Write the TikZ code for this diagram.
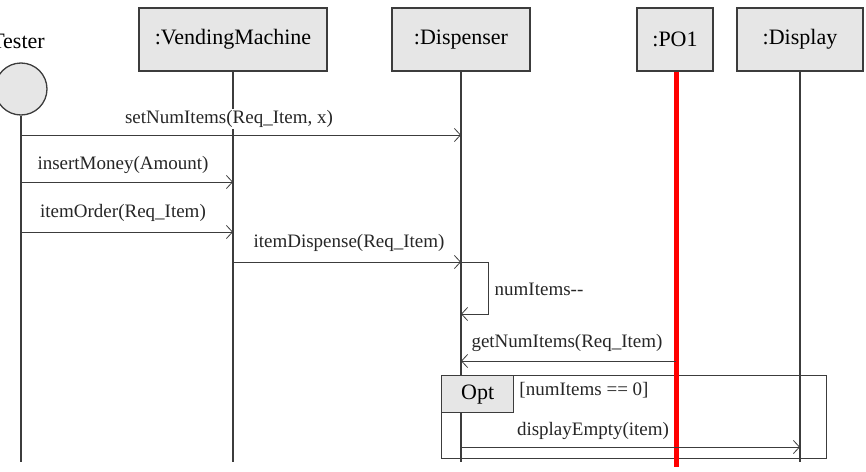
\documentclass[tikz,border=0pt]{standalone}
\usepackage{fontspec}
\setmainfont{Liberation Serif}
\usetikzlibrary{arrows.meta}
\definecolor{boxgray}{RGB}{230,230,230}
\definecolor{linegray}{RGB}{60,60,60}
\begin{document}
\begin{tikzpicture}[x=1pt,y=-1pt,
  obj/.style={draw=linegray,fill=boxgray,line width=1.3pt,minimum height=63pt,inner sep=0pt,font=\fontsize{22}{26}\selectfont},
  life/.style={draw=linegray,line width=1.3pt},
  msg/.style={draw=linegray,line width=0.8pt,-{Straight Barb[length=6pt,width=13pt,line width=0.8pt]}},
  lbl/.style={font=\fontsize{19}{22}\selectfont,text=black!85,fill=white,inner sep=1pt},
  frame/.style={draw=linegray,line width=1.3pt,inner sep=0pt}]
\useasboundingbox (0,0) rectangle (866,471);

% heads
\node (tlabel) at (18,41) [font=\fontsize{22}{26}\selectfont,inner sep=0pt] {Tester};
\node (tester) at (21,89) [circle,draw=linegray,fill=boxgray,line width=1.3pt,minimum size=52pt,inner sep=0pt] {};
\node (vm) at (233,39.5) [obj,minimum width=188pt] {:VendingMachine};
\node (disp) at (461,39.5) [obj,minimum width=138pt] {:Dispenser};
\node (po) at (675,39.5) [obj,minimum width=76pt] {:PO1};
\node (dsp) at (800,39.5) [obj,minimum width=126pt] {:Display};

% lifeline ends
\coordinate (tend) at (21,462);
\coordinate (vmend) at (233,462);
\coordinate (dend) at (461,462);
\coordinate (poend) at (676,467);
\coordinate (dspend) at (800,462);

% opt frame
\node (opt) at (441,375) [frame,anchor=north west,minimum width=385pt,minimum height=83pt] {};

\draw[life] (tester.south) -- (tend);
\draw[life] (vm.south) -- (vmend);
\draw[life] (disp.south) -- (dend);
\draw[life] (dsp.south) -- (dspend);

\node (opttag) at (441,375) [frame,anchor=north west,fill=boxgray,minimum width=72pt,minimum height=37pt,font=\fontsize{22}{26}\selectfont] {Opt};

\draw[red,line width=5pt] (po.south -| poend) -- (poend);

% message end points
\coordinate (t1) at (21,135);   \coordinate (d1) at (461,135);
\coordinate (t2) at (21,182);   \coordinate (v2) at (233,182);
\coordinate (t3) at (21,232);   \coordinate (v3) at (233,232);
\coordinate (v4) at (233,262);  \coordinate (d4) at (461,262);
\coordinate (d5) at (461,314);
\coordinate (p6) at (676,361);  \coordinate (d6) at (461,361);
\coordinate (d7) at (461,447);  \coordinate (s7) at (800,447);

\draw[msg] (t1) -- (d1);
\draw[msg] (t2) -- (v2);
\draw[msg] (t3) -- (v3);
\draw[msg] (v4) -- (d4);
\draw[msg] (d4) -- ++(27,0) |- (d5);
\draw[msg] (p6) -- (d6);
\draw[msg] (d7) -- (s7);

% labels
\node (l1) at (229,119) [lbl] {setNumItems(Req\_Item, x)};
\node (l2) at (123,165) [lbl] {insertMoney(Amount)};
\node (l3) at (123,213) [lbl] {itemOrder(Req\_Item)};
\node (l4) at (349,243) [lbl] {itemDispense(Req\_Item)};
\node (l5) at (539,289) [lbl] {numItems-{}-};
\node (l6) at (567,343) [lbl] {getNumItems(Req\_Item)};
\node (l7) at (584,390) [lbl] {[numItems == 0]};
\node (l8) at (593,431) [lbl] {displayEmpty(item)};
\end{tikzpicture}
\end{document}
